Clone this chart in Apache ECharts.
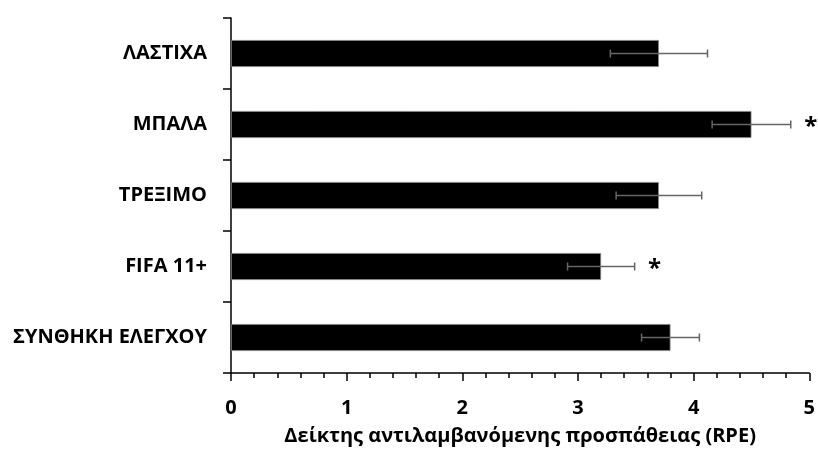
<!DOCTYPE html>
<html>
<head>
<meta charset="utf-8">
<script src="https://cdn.jsdelivr.net/npm/echarts@6/dist/echarts.min.js"></script>
<style>
  html, body { margin: 0; padding: 0; background: #fff; }
  #chart { width: 818px; height: 457px; }
</style>
</head>
<body>
<div id="chart"></div>
<script>
// Categories listed bottom-to-top (category axis starts at the bottom)
const categories = ['ΣΥΝΘΗΚΗ ΕΛΕΓΧΟΥ', 'FIFA 11+', 'ΤΡΕΞΙΜΟ', 'ΜΠΑΛΑ', 'ΛΑΣΤΙΧΑ'];
// Mean RPE per condition
const meanRPE = [3.8, 3.2, 3.7, 4.5, 3.7];
// Standard deviation (error bar half-width)
const sdRPE = [0.25, 0.29, 0.37, 0.34, 0.42];
// Significance markers
const significance = ['', '*', '', '*', ''];
const xTicks = [0, 1, 2, 3, 4, 5];

const FONT = '"Open Sans", "Noto Sans", sans-serif';

const chart = echarts.init(document.getElementById('chart'), null, { renderer: 'canvas' });

const errData = categories.map((c, i) => [i, meanRPE[i] - sdRPE[i], meanRPE[i] + sdRPE[i], significance[i]]);

chart.setOption({
  animation: false,
  grid: { left: 231, right: 8, top: 18, bottom: 84, containLabel: false },
  xAxis: {
    type: 'value',
    min: xTicks[0],
    max: xTicks[xTicks.length - 1],
    interval: 1,
    name: 'Δείκτης αντιλαμβανόμενης προσπάθειας (RPE)',
    nameLocation: 'middle',
    nameGap: 53,
    nameTextStyle: { fontFamily: FONT, fontWeight: 'bold', fontSize: 20, color: '#000' },
    axisLine: { show: true, lineStyle: { color: '#000', width: 1.5 } },
    axisTick: { show: true, length: 8, inside: false, lineStyle: { color: '#000', width: 1.5 } },
    minorTick: { show: true, splitNumber: 5, length: 5, lineStyle: { color: '#000', width: 1.5 } },
    splitLine: { show: false },
    axisLabel: { fontFamily: FONT, fontWeight: 'bold', fontSize: 20, color: '#000', margin: 25 }
  },
  yAxis: {
    type: 'category',
    data: categories,
    axisLine: { show: true, lineStyle: { color: '#000', width: 1.5 } },
    axisTick: { show: true, length: 8, inside: false, alignWithLabel: false, lineStyle: { color: '#000', width: 1.5 } },
    axisLabel: { fontFamily: FONT, fontWeight: 'bold', fontSize: 20, color: '#000', margin: 24 }
  },
  series: [
    {
      type: 'bar',
      data: meanRPE,
      barWidth: 27,
      itemStyle: { color: '#000', borderColor: '#888', borderWidth: 0.8 }
    },
    {
      type: 'custom',
      data: errData,
      encode: { y: 0, x: [1, 2] },
      z: 5,
      renderItem: function (params, api) {
        const cat = api.value(0);
        const lo = api.coord([api.value(1), cat]);
        const hi = api.coord([api.value(2), cat]);
        const cap = 4;
        const style = { stroke: '#666', lineWidth: 1.5 };
        const children = [
          { type: 'line', shape: { x1: lo[0], y1: lo[1], x2: hi[0], y2: hi[1] }, style: style },
          { type: 'line', shape: { x1: lo[0], y1: lo[1] - cap, x2: lo[0], y2: lo[1] + cap }, style: style },
          { type: 'line', shape: { x1: hi[0], y1: hi[1] - cap, x2: hi[0], y2: hi[1] + cap }, style: style }
        ];
        const mark = significance[params.dataIndex];
        if (mark) {
          children.push({
            type: 'text',
            style: {
              text: mark, x: hi[0] + 20, y: hi[1] + 3,
              align: 'center', verticalAlign: 'middle',
              fontFamily: FONT, fontWeight: 'bold', fontSize: 24, fill: '#000'
            }
          });
        }
        return { type: 'group', children: children };
      }
    }
  ]
});
</script>
</body>
</html>
